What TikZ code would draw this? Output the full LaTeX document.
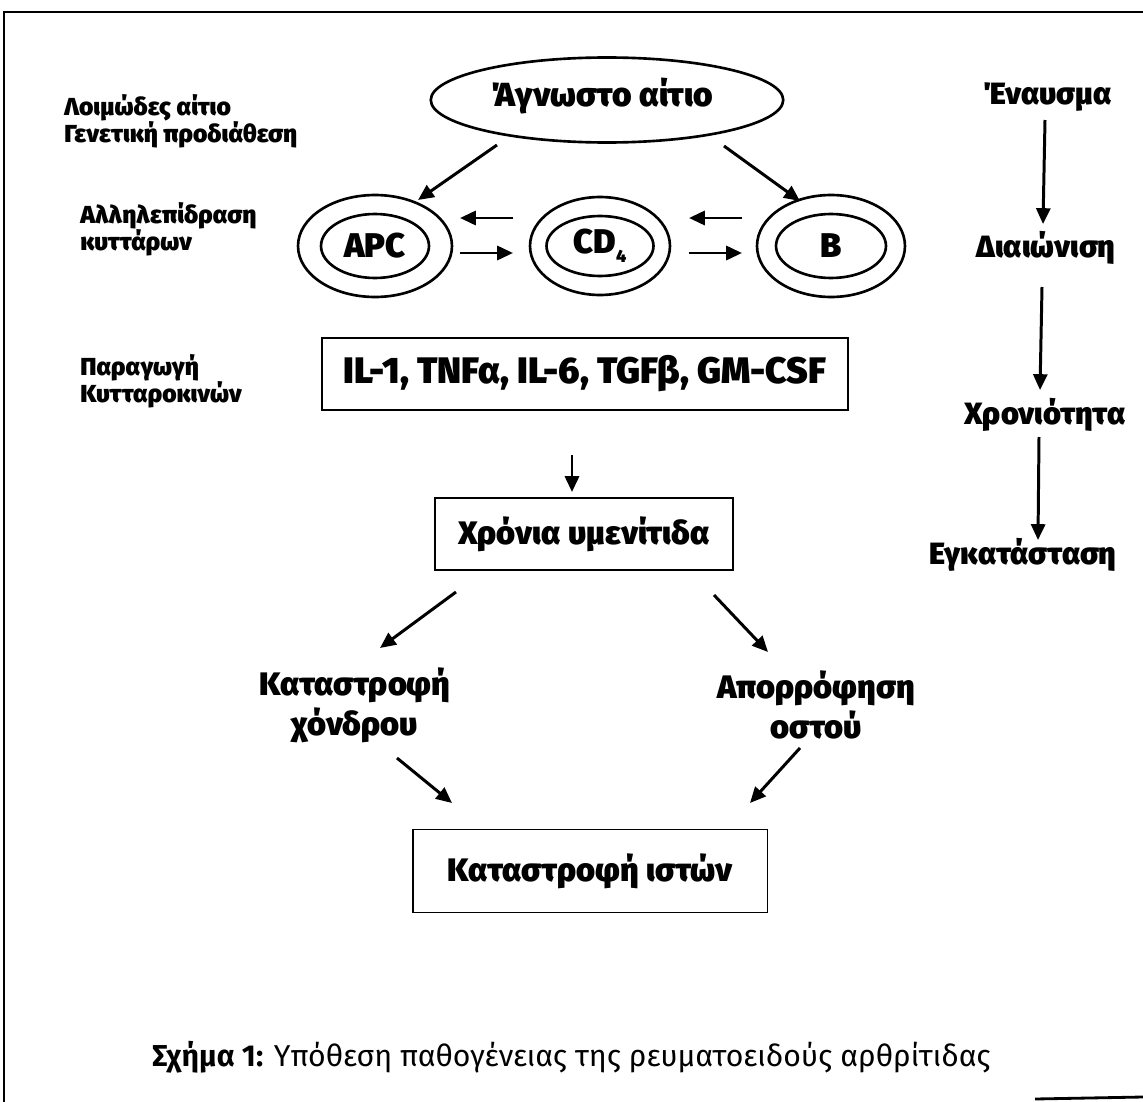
\documentclass[tikz,border=0pt]{standalone}
\usepackage{fontspec}
\setmainfont{Fira Sans}
\newfontfamily\heavy{Fira Sans Black}
\usetikzlibrary{arrows.meta,shapes.geometric}
\begin{document}
\begin{tikzpicture}[x=0.02cm,y=-0.02cm,
  lbl/.style={font=\heavy\fontsize{14}{15.5}\selectfont, anchor=west, inner sep=0, align=left},
  big/.style={font=\heavy\fontsize{18.5}{22.7}\selectfont, inner sep=0, align=center},
  rcol/.style={font=\heavy\fontsize{17.5}{20}\selectfont, inner sep=0},
  arr/.style={line width=1.7pt, -{Triangle[length=9pt,width=8pt]}},
  cell/.style={draw, ellipse, line width=1.5pt, inner sep=0},
  celltxt/.style={font=\heavy\fontsize{19.5}{21}\selectfont},
  box/.style={draw, rectangle, line width=1.1pt, inner sep=0}]
\useasboundingbox (0,0) rectangle (1143,1102);
% frame
\draw[line width=1.6pt] (4,1102) -- (4,12) -- (1143,12);
\draw[line width=1.6pt] (1035,1099) -- (1143,1097);

% top ellipse
\node[cell, minimum width=7.05cm, minimum height=1.7cm] (unk) at (607,100) {};
\node[font=\heavy\fontsize{19}{22}\selectfont, inner sep=0] (unkt) at (602,96) {Άγνωστο αίτιο};

% left labels
\node[lbl] (l1) at (64,121) {Λοιμώδες αίτιο\\Γενετική προδιάθεση};
\node[lbl] (l2) at (80,229) {Αλληλεπίδραση\\κυττάρων};
\node[lbl] (l3) at (80,381) {Παραγωγή\\Κυτταροκινών};

% cells
\node[cell, minimum width=3.08cm, minimum height=2.04cm] (apco) at (375,246) {};
\node[cell, celltxt, minimum width=2.16cm, minimum height=1.28cm] (apc) at (375,246) {APC};
\node[cell, minimum width=2.8cm, minimum height=1.96cm] (cdo) at (600,246) {};
\node[cell, celltxt, minimum width=2.14cm, minimum height=1.2cm] (cd) at (600,246) {CD\raisebox{-0.5ex}{\fontsize{10}{10}\selectfont 4}};
\node[cell, minimum width=2.96cm, minimum height=2.04cm] (bo) at (831,246) {};
\node[cell, celltxt, minimum width=2.2cm, minimum height=1.28cm] (b) at (831,246) {B};

% arrows from unknown cause
\coordinate (u1) at (497,145); \coordinate (u1e) at (418,200);
\coordinate (u2) at (724,146); \coordinate (u2e) at (800,201);
\draw[arr] (u1) -- (u1e);
\draw[arr] (u2) -- (u2e);

% interaction arrows
\coordinate (p1a) at (513,218); \coordinate (p1b) at (460,218);
\coordinate (p2a) at (460,253); \coordinate (p2b) at (513,253);
\coordinate (p3a) at (742,218); \coordinate (p3b) at (689,218);
\coordinate (p4a) at (689,253); \coordinate (p4b) at (742,253);
\draw[arr] (p1a) -- (p1b);
\draw[arr] (p2a) -- (p2b);
\draw[arr] (p3a) -- (p3b);
\draw[arr] (p4a) -- (p4b);

% cytokine box
\node[box, minimum width=10.52cm, minimum height=1.44cm, font=\heavy\fontsize{21}{23}\selectfont] (cyt) at (585,374) {IL-1, TNFα, IL-6, TGFβ, GM-CSF};
\coordinate (c1) at (572,455); \coordinate (c1e) at (572,492);
\draw[arr] (c1) -- (c1e);

% synovitis box
\node[box, minimum width=5.96cm, minimum height=1.44cm, font=\heavy\fontsize{18.5}{20}\selectfont] (syn) at (584,534) {Χρόνια υμενίτιδα};

\coordinate (s1) at (456,592); \coordinate (s1e) at (380,648);
\coordinate (s2) at (714,595); \coordinate (s2e) at (768,652);
\draw[arr] (s1) -- (s1e);
\draw[arr] (s2) -- (s2e);

\node[big] (cart) at (355,705) {Καταστροφή\\χόνδρου};
\node[big] (bone) at (816,705) {Απορρόφηση\\οστού};

\coordinate (k1) at (397,758); \coordinate (k1e) at (452,803);
\coordinate (k2) at (800,748); \coordinate (k2e) at (750,803);
\draw[arr] (k1) -- (k1e);
\draw[arr] (k2) -- (k2e);

\node[box, minimum width=7.1cm, minimum height=1.66cm, font=\heavy\fontsize{18.5}{20}\selectfont] (tis) at (590,871) {Καταστροφή ιστών};

% right column
\node[rcol] (r1) at (1047,97) {Έναυσμα};
\node[rcol] (r2) at (1046,248) {Διαιώνιση};
\node[rcol] (r3) at (1045,415) {Χρονιότητα};
\node[rcol] (r4) at (1023,555) {Εγκατάσταση};
\coordinate (q1) at (1045,120); \coordinate (q1e) at (1043,224);
\coordinate (q2) at (1042,287); \coordinate (q2e) at (1040,390);
\coordinate (q3) at (1039,437); \coordinate (q3e) at (1038,540);
\draw[arr] (q1) -- (q1e);
\draw[arr] (q2) -- (q2e);
\draw[arr] (q3) -- (q3e);

% caption
\node[anchor=west, inner sep=0, font=\fontsize{17.2}{20}\selectfont] (cap) at (152,1057) {\textbf{Σχήμα 1:} Υπόθεση παθογένειας της ρευματοειδούς αρθρίτιδας};
\end{tikzpicture}
\end{document}
